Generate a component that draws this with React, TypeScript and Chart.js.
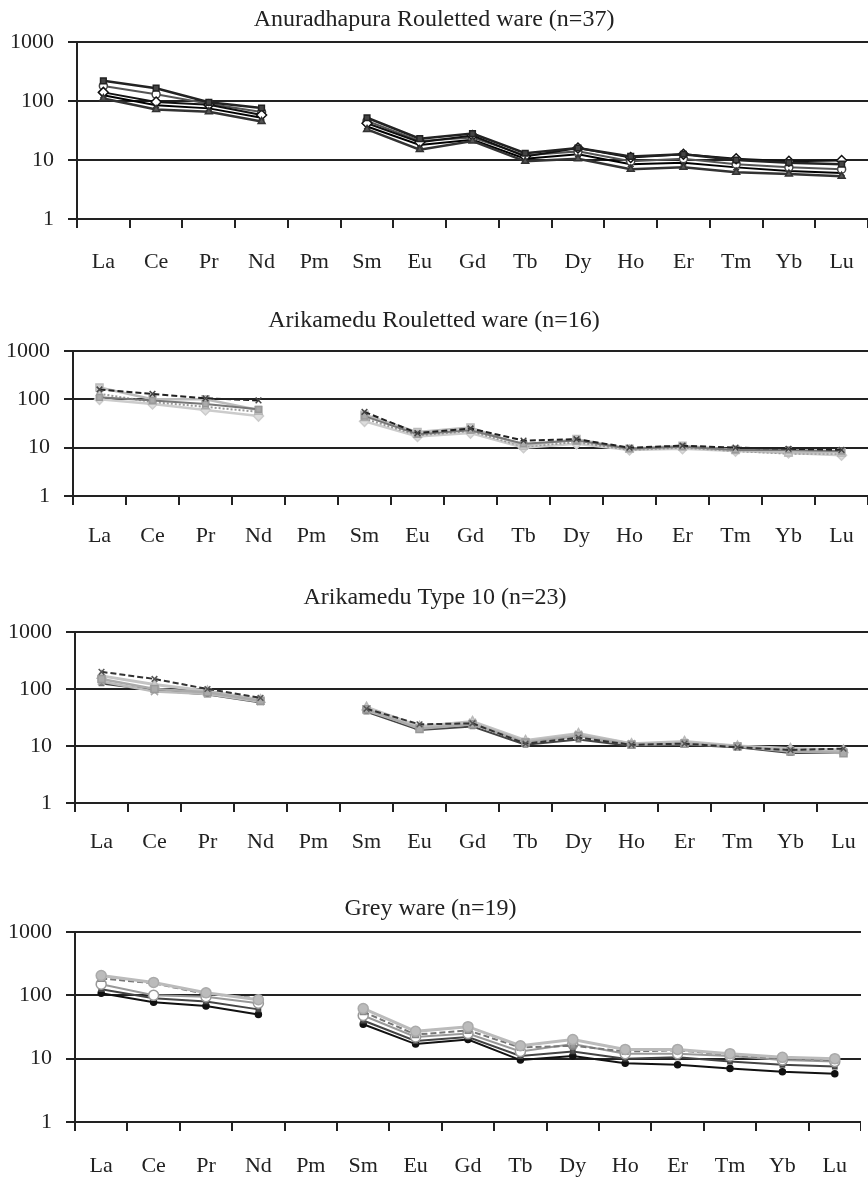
import React, { useEffect, useRef } from 'react';
import { Chart, registerables } from 'chart.js';

Chart.register(...registerables);

// ---------- Data ----------
const ELEMENTS = ['La', 'Ce', 'Pr', 'Nd', 'Pm', 'Sm', 'Eu', 'Gd', 'Tb', 'Dy', 'Ho', 'Er', 'Tm', 'Yb', 'Lu'];
const Y_TICKS = [1, 10, 100, 1000];

const TITLE_1 = 'Anuradhapura Rouletted ware (n=37)';
const TITLE_2 = 'Arikamedu Rouletted ware (n=16)';
const TITLE_3 = 'Arikamedu Type 10 (n=23)';
const TITLE_4 = 'Grey ware (n=19)';

// Panel 1: Anuradhapura Rouletted ware
const ANU_1 = [220, 165, 95, 76, null, 52, 23, 28, 13, 16, 11.5, 12.5, 10, 9, 8.5];
const ANU_2 = [110, 72, 66, 45, null, 33, 15, 21, 9.5, 10.5, 7, 7.5, 6.2, 5.8, 5.3];
const ANU_3 = [140, 96, 86, 58, null, 42, 20, 26, 11.5, 16, 11, 12.5, 10.5, 9.5, 9.8];
const ANU_4 = [180, 130, 90, 65, null, 46, 21, 24, 12, 14, 9.5, 10.5, 8.5, 7.5, 7];
const ANU_5 = [125, 85, 75, 52, null, 37, 18, 22, 10.5, 12.5, 8.5, 9, 7.5, 6.5, 6];

// Panel 2: Arikamedu Rouletted ware
const ARR_1 = [160, 130, 105, 95, null, 55, 20, 25, 14, 15, 10, 11, 10, 9.5, 9];
const ARR_2 = [110, 95, 80, 62, null, 45, 19, 23, 12, 14, 9.5, 10.5, 9, 9, 8.5];
const ARR_3 = [175, 100, 100, 60, null, 48, 21, 26, 11, 15, 9.5, 11, 9, 8, 8];
const ARR_4 = [130, 88, 70, 55, null, 40, 18, 22, 10.5, 13, 9, 10, 8.5, 7.5, 7.5];
const ARR_5 = [100, 80, 60, 45, null, 35, 17, 20, 10, 12, 9, 9.5, 8.5, 7.8, 7];

// Panel 3: Arikamedu Type 10
const T10_1 = [200, 150, 100, 70, null, 45, 24, 25, 11, 14, 10.5, 11, 9.5, 8.5, 9];
const T10_2 = [150, 100, 88, 62, null, 44, 20, 24, 11.5, 15, 10.5, 11, 9.8, 8, 7.5];
const T10_3 = [135, 90, 82, 60, null, 42, 21, 26, 12, 16, 11, 11.5, 10, 8.5, 8];
const T10_4 = [125, 95, 80, 58, null, 40, 19, 22, 10.5, 13, 10, 10.5, 9.5, 7.5, 7.5];
const T10_5 = [170, 120, 92, 65, null, 48, 22, 27, 12.5, 16.5, 11, 12, 10, 9, 8.5];

// Panel 4: Grey ware
const GRW_1 = [205, 160, 110, 85, null, 62, 27, 32, 16, 20, 14, 14, 12, 10.5, 10];
const GRW_2 = [185, 155, 105, 90, null, 55, 24, 28, 15, 16, 13, 13.5, 11.5, 10, 9.5];
const GRW_3 = [150, 100, 95, 75, null, 48, 22, 25, 13, 17, 12, 12, 11, 9.5, 9];
const GRW_4 = [125, 90, 80, 60, null, 40, 19, 22, 11, 13, 10, 10.5, 9, 8, 7.5];
const GRW_5 = [108, 78, 68, 50, null, 35, 17, 20, 9.5, 11, 8.5, 8, 7, 6.2, 5.8];

// ---------- Styling ----------
const FONT = '"Liberation Serif", "Times New Roman", serif';
const INK = '#222';

type SeriesStyle = {
  line: string;
  width?: number;
  dash?: number[];
  point: string;
  fill: string;
  pointBorder: string;
  radius?: number;
};

type PanelSpec = {
  title: string;
  series: (number | null)[][];
  styles: SeriesStyle[];
  top: number;
  width: number;
  left: number;
  chartTop: number;
  chartBottom: number;
  labelPad: number;
};

const DARK_STYLES: SeriesStyle[] = [
  { line: '#222', width: 2.5, point: 'rect', fill: '#444', pointBorder: '#222', radius: 4 },
  { line: '#333', width: 2.5, point: 'triangle', fill: '#555', pointBorder: '#333', radius: 4 },
  { line: '#111', width: 2, point: 'rectRot', fill: '#fff', pointBorder: '#111', radius: 5 },
  { line: '#555', width: 2, point: 'circle', fill: '#fff', pointBorder: '#444', radius: 4 },
  { line: '#000', width: 2, point: 'crossRot', fill: '#000', pointBorder: '#333', radius: 4 },
];

const LIGHT_STYLES: SeriesStyle[] = [
  { line: '#222', width: 2, dash: [6, 3], point: 'crossRot', fill: '#333', pointBorder: '#444', radius: 4 },
  { line: '#777', width: 2, point: 'rect', fill: '#aaa', pointBorder: '#999', radius: 4 },
  { line: '#bbb', width: 2.5, point: 'rect', fill: '#ccc', pointBorder: '#bbb', radius: 5 },
  { line: '#999', width: 2, dash: [2, 2], point: 'triangle', fill: '#ccc', pointBorder: '#aaa', radius: 4 },
  { line: '#ccc', width: 2.5, point: 'rectRot', fill: '#ddd', pointBorder: '#ccc', radius: 5 },
];

const T10_STYLES: SeriesStyle[] = [
  { line: '#333', width: 2, dash: [6, 3], point: 'crossRot', fill: '#444', pointBorder: '#555', radius: 4 },
  { line: '#aaa', width: 2.5, point: 'rect', fill: '#aaa', pointBorder: '#999', radius: 5 },
  { line: '#bbb', width: 2.5, point: 'crossRot', fill: '#bbb', pointBorder: '#aaa', radius: 5 },
  { line: '#444', width: 2, point: 'rect', fill: '#888', pointBorder: '#777', radius: 3 },
  { line: '#c4c4c4', width: 3, point: 'triangle', fill: '#ccc', pointBorder: '#bbb', radius: 5 },
];

const GREY_STYLES: SeriesStyle[] = [
  { line: '#bbb', width: 3, point: 'circle', fill: '#bbb', pointBorder: '#aaa', radius: 5 },
  { line: '#777', width: 2, dash: [6, 3], point: 'rect', fill: '#999', pointBorder: '#888', radius: 4 },
  { line: '#999', width: 2, point: 'circle', fill: '#fff', pointBorder: '#999', radius: 5 },
  { line: '#444', width: 2, point: 'rect', fill: '#555', pointBorder: '#444', radius: 3 },
  { line: '#111', width: 2, point: 'circle', fill: '#111', pointBorder: '#111', radius: 3 },
];

const PANELS: PanelSpec[] = [
  {
    title: TITLE_1,
    series: [ANU_1, ANU_2, ANU_3, ANU_4, ANU_5],
    styles: DARK_STYLES,
    top: 2,
    width: 868,
    left: 77,
    chartTop: 42,
    chartBottom: 219,
    labelPad: 21,
  },
  {
    title: TITLE_2,
    series: [ARR_1, ARR_2, ARR_3, ARR_4, ARR_5],
    styles: LIGHT_STYLES,
    top: 303,
    width: 868,
    left: 73,
    chartTop: 351,
    chartBottom: 496,
    labelPad: 18,
  },
  {
    title: TITLE_3,
    series: [T10_1, T10_2, T10_3, T10_4, T10_5],
    styles: T10_STYLES,
    top: 580,
    width: 870,
    left: 75,
    chartTop: 632,
    chartBottom: 803,
    labelPad: 17,
  },
  {
    title: TITLE_4,
    series: [GRW_1, GRW_2, GRW_3, GRW_4, GRW_5],
    styles: GREY_STYLES,
    top: 891,
    width: 861,
    left: 75,
    chartTop: 932,
    chartBottom: 1122,
    labelPad: 22,
  },
];

const X_AXIS_HEIGHT = 55;
const TITLE_SIZE = 24;
const TITLE_PAD_TOP = 3;

function Panel({ spec }: { spec: PanelSpec }) {
  const ref = useRef<HTMLCanvasElement | null>(null);
  const height = spec.chartBottom - spec.top + X_AXIS_HEIGHT;

  useEffect(() => {
    if (!ref.current) return;
    const titleBox = TITLE_SIZE * 1.2;
    const padBottom = spec.chartTop - spec.top - TITLE_PAD_TOP - titleBox;
    const chart = new Chart(ref.current, {
      type: 'line',
      data: {
        labels: ELEMENTS,
        datasets: spec.series.map((values, i) => {
          const s = spec.styles[i];
          return {
            label: `S${i + 1}`,
            data: values,
            borderColor: s.line,
            borderWidth: s.width ?? 2,
            borderDash: s.dash ?? [],
            pointStyle: s.point as any,
            pointBackgroundColor: s.fill,
            pointBorderColor: s.pointBorder,
            pointBorderWidth: 1.5,
            pointRadius: s.radius ?? 4,
            tension: 0,
            spanGaps: false,
            fill: false,
          };
        }),
      },
      options: {
        responsive: false,
        maintainAspectRatio: false,
        animation: false,
        devicePixelRatio: 1,
        layout: { autoPadding: false, padding: { left: 0, right: 0, top: 0, bottom: 0 } },
        plugins: {
          legend: { display: false },
          tooltip: { enabled: false },
          title: {
            display: true,
            text: spec.title,
            color: INK,
            font: { family: FONT, size: TITLE_SIZE, weight: 'normal' as any, lineHeight: 1.2 },
            padding: { top: TITLE_PAD_TOP, bottom: padBottom },
          },
        },
        scales: {
          x: {
            type: 'category',
            offset: true,
            grid: {
              offset: true,
              drawOnChartArea: false,
              drawTicks: true,
              tickLength: 9,
              color: INK,
              lineWidth: 2,
            },
            border: { display: true, color: INK, width: 2 },
            ticks: {
              color: INK,
              font: { family: FONT, size: 22, lineHeight: 1.2 },
              padding: spec.labelPad,
              autoSkip: false,
              maxRotation: 0,
              minRotation: 0,
            },
            afterFit: (scale: any) => {
              scale.height = X_AXIS_HEIGHT;
              scale.paddingLeft = 0;
              scale.paddingRight = 0;
            },
          },
          y: {
            type: 'logarithmic',
            min: 1,
            max: 1000,
            afterBuildTicks: (scale: any) => {
              scale.ticks = Y_TICKS.map((v) => ({ value: v }));
            },
            grid: {
              color: INK,
              lineWidth: 2,
              drawTicks: true,
              tickLength: 9,
            },
            border: { display: true, color: INK, width: 2 },
            ticks: {
              color: INK,
              font: { family: FONT, size: 22 },
              padding: 14,
              callback: (v: any) => String(v),
            },
            afterFit: (scale: any) => {
              scale.width = spec.left;
            },
          },
        },
      },
    });
    return () => chart.destroy();
  }, [spec]);

  return (
    <canvas
      ref={ref}
      width={spec.width}
      height={height}
      style={{
        position: 'absolute',
        left: 0,
        top: spec.top,
        width: spec.width,
        height: height,
        display: 'block',
      }}
    />
  );
}

export default function App() {
  return (
    <div
      style={{
        position: 'absolute',
        left: 0,
        top: 0,
        width: 868,
        height: 1177,
        overflow: 'hidden',
        background: '#fff',
      }}
    >
      {PANELS.map((p, i) => (
        <Panel key={i} spec={p} />
      ))}
    </div>
  );
}
